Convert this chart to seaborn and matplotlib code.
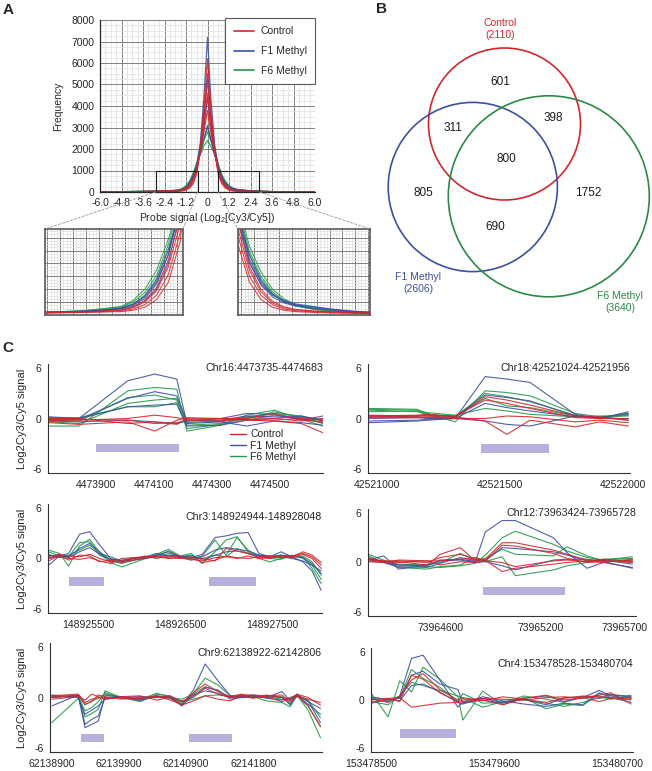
import matplotlib
matplotlib.use("Agg")
import matplotlib.pyplot as plt
import seaborn as sns
import pandas as pd
from matplotlib.patches import Rectangle, Circle, ConnectionPatch
from matplotlib.ticker import MultipleLocator, AutoMinorLocator
from matplotlib.lines import Line2D

# ---------------- data: panel A (probe signal histograms) ----------------
hist_x = [-6.0, -4.8, -3.6, -3.0, -2.6, -2.2, -1.9, -1.6, -1.4, -1.2, -1.0, -0.8, -0.6, -0.4, -0.2, 0.0,
          0.2, 0.4, 0.6, 0.8, 1.0, 1.2, 1.4, 1.6, 1.9, 2.2, 2.6, 3.0, 3.6, 4.8, 6.0]
hist_ctrl = [
    [8, 12, 18, 22, 26, 30, 35, 40, 55, 90, 180, 380, 850, 2000, 3900, 6200, 3800, 1900, 820, 380, 180, 90, 55, 40, 30, 24, 20, 16, 12, 9, 6],
    [10, 14, 20, 25, 28, 34, 40, 48, 70, 120, 230, 470, 950, 1950, 3400, 5200, 3300, 1850, 920, 450, 230, 120, 70, 50, 38, 30, 24, 19, 14, 10, 7],
    [12, 16, 22, 27, 32, 38, 45, 55, 85, 150, 280, 560, 1050, 1950, 3100, 4600, 3000, 1850, 1000, 520, 270, 140, 85, 60, 45, 36, 28, 22, 16, 11, 8],
    [9, 13, 19, 24, 30, 38, 48, 60, 95, 170, 320, 640, 1120, 1900, 2800, 3800, 2700, 1800, 1080, 560, 300, 160, 95, 65, 48, 38, 28, 21, 15, 10, 6],
]
hist_f1 = [
    [10, 15, 22, 28, 34, 42, 55, 70, 100, 160, 300, 600, 1200, 2300, 4400, 7200, 4200, 2200, 1150, 600, 360, 230, 170, 130, 100, 72, 45, 30, 20, 12, 8],
    [12, 18, 25, 30, 36, 45, 58, 75, 115, 190, 360, 700, 1250, 2150, 3600, 5500, 3500, 2050, 1200, 650, 380, 240, 160, 120, 95, 68, 42, 28, 18, 12, 7],
    [11, 16, 23, 29, 35, 44, 56, 80, 125, 220, 420, 760, 1180, 1950, 3000, 4400, 2900, 1850, 1100, 620, 350, 210, 140, 105, 80, 58, 38, 26, 17, 11, 7],
    [10, 15, 21, 27, 33, 42, 54, 78, 120, 210, 380, 700, 1250, 1850, 2500, 3100, 2400, 1750, 1150, 700, 400, 240, 150, 110, 85, 62, 40, 27, 18, 11, 7],
]
hist_f6 = [
    [13, 18, 26, 33, 40, 55, 75, 100, 170, 300, 520, 880, 1350, 1750, 2150, 2400, 2100, 1750, 1300, 800, 500, 300, 190, 120, 75, 50, 34, 26, 19, 12, 8],
    [12, 17, 24, 31, 38, 50, 68, 95, 150, 260, 460, 820, 1300, 1800, 2500, 3000, 2450, 1800, 1250, 740, 450, 270, 170, 110, 70, 47, 32, 24, 17, 11, 7],
    [11, 16, 23, 30, 36, 46, 62, 85, 130, 230, 400, 760, 1250, 1780, 2400, 2800, 2350, 1750, 1200, 700, 420, 250, 160, 105, 68, 46, 31, 23, 16, 10, 7],
]
a_xticks = [-6.0, -4.8, -3.6, -2.4, -1.2, 0.0, 1.2, 2.4, 3.6, 4.8, 6.0]
zoom_left = (-2.9, -0.55)
zoom_right = (0.6, 2.9)
zoom_top = 1000

# ---------------- data: panel B (Venn counts) ----------------
venn_only_ctrl, venn_only_f1, venn_only_f6 = 601, 805, 1752
venn_ctrl_f1, venn_ctrl_f6, venn_f1_f6, venn_all = 311, 398, 690, 800

# ---------------- data: panel C (probe tracks) ----------------
c16_pos = [4473740, 4473842, 4474010, 4474103, 4474179, 4474214, 4474330, 4474420, 4474515, 4474608, 4474683]
c16_ctrl = [[-0.5, -0.7, -0.4, -1.5, -0.2, 0.1, 0.0, -0.2, -0.3, -0.6, -1.7],
            [-0.1, -0.2, 0.0, 0.4, 0.1, -0.1, 0.0, 0.0, 0.6, -0.1, -0.5],
            [0.0, 0.0, -0.6, -0.4, -0.7, 0.0, -0.2, -0.1, -0.2, 0.0, -0.2],
            [-0.3, -0.1, -0.2, -0.6, -0.5, -0.2, -0.4, 0.1, 0.0, -0.3, 0.0]]
c16_f1 = [[0.1, 0.0, 4.5, 5.3, 4.7, -0.6, -0.4, -0.9, -0.3, -0.5, -0.8],
          [-0.2, -0.1, 2.4, 3.2, 2.7, -0.3, 0.0, 0.6, 0.5, -0.2, 0.3],
          [0.2, 0.0, 1.4, 1.6, 1.7, -0.9, -0.8, -0.2, 0.0, 0.3, -0.3],
          [-0.3, -0.4, -0.2, -0.4, -0.6, -0.3, -0.2, 0.3, 0.2, 0.1, -0.1]]
c16_f6 = [[-0.9, -0.9, 3.3, 3.7, 3.5, -1.5, -0.8, 0.4, 1.0, -0.1, -0.9],
          [-0.4, -0.6, 1.8, 2.2, 2.4, -0.8, -0.6, 0.0, 0.8, 0.2, -0.6],
          [0.0, 0.1, 1.4, 1.4, 1.9, -1.2, -0.7, -0.2, 0.4, -0.1, -0.4],
          [-0.2, -0.3, 2.5, 2.8, 2.2, -0.5, -0.3, 0.2, 0.6, 0.3, -0.2]]
c16_regions = [(4473900, 4474187)]

c18_pos = [42520965, 42521162, 42521205, 42521317, 42521439, 42521527, 42521621, 42521804, 42521905, 42522020]
c18_ctrl = [[0.3, 0.4, 0.5, 0.2, -0.3, -1.9, -0.2, -1.0, -0.4, -0.9],
            [0.2, 0.3, 0.3, 0.1, 2.6, 2.2, 1.6, 0.3, 0.2, -0.2],
            [0.1, 0.1, 0.2, 0.0, 0.0, 0.3, 0.2, -0.4, -0.2, -0.5],
            [0.4, 0.3, 0.4, 0.3, 2.2, 1.8, 1.2, 0.1, 0.0, 0.0]]
c18_f1 = [[-0.5, -0.3, -0.2, 0.0, 5.0, 4.7, 4.3, 0.5, 0.0, 0.8],
          [0.3, 0.2, 0.1, 0.2, 2.8, 2.5, 2.1, 0.3, 0.0, 0.0],
          [-0.3, -0.2, -0.1, 0.0, 1.8, 1.3, 0.9, 0.2, 0.1, -0.2],
          [0.0, 0.1, 0.0, 0.0, -0.3, -0.7, -0.9, 0.3, 0.1, 0.6]]
c18_f6 = [[1.2, 1.1, 0.6, -0.4, 3.3, 3.1, 2.7, 0.6, 0.2, 0.5],
          [1.0, 0.8, 0.5, 0.3, 2.4, 1.5, 1.3, 0.3, 0.1, 0.6],
          [0.8, 0.9, 0.7, 0.4, 1.2, 0.9, 0.5, 0.2, 0.3, 0.3],
          [1.1, 1.0, 0.4, 0.2, 3.0, 2.6, 2.0, 0.4, 0.0, 0.4]]
c18_regions = [(42521422, 42521699)]

c3_pos = [148925060, 148925180, 148925280, 148925400, 148925510, 148925620, 148925740, 148925860, 148925990,
          148926120, 148926240, 148926370, 148926500, 148926620, 148926740, 148926880, 148927000, 148927120,
          148927240, 148927360, 148927480, 148927600, 148927720, 148927840, 148927940, 148928040]
c3_ctrl = [[-0.3, 0.4, -0.2, 0.4, 0.3, -0.4, -0.2, -0.5, -0.2, 0.1, 0.3, 0.1, 0.0, 0.2, -0.5, -0.2, 0.3, 0.1, 0.0, 0.2, 0.3, 0.1, 0.3, 0.6, 0.2, -0.8],
           [0.2, 0.5, 0.3, 0.2, 0.5, 0.0, -0.4, -0.3, 0.0, 0.3, 0.0, 0.3, 0.2, -0.1, -0.3, 0.1, 0.2, 0.0, 0.3, 0.0, 0.2, 0.4, 0.2, 0.8, 0.4, -0.5],
           [0.0, 0.2, 0.0, -0.1, 0.1, -0.3, -0.6, 0.0, 0.1, 0.2, 0.2, 0.0, 0.1, 0.1, 0.0, -0.3, 1.2, 0.9, 0.6, 0.1, 0.0, 0.3, 0.1, 0.5, 0.0, -1.2]]
c3_f1 = [[-0.8, 0.3, 0.6, 2.9, 3.2, 1.6, 0.0, -0.3, -0.2, 0.0, 0.2, 0.4, 0.3, 0.1, 0.5, 2.5, 2.7, 3.0, 3.1, 0.6, 0.2, 0.8, 0.2, -0.4, -1.5, -3.8],
         [0.4, 0.2, 0.2, 1.2, 1.8, 0.8, -0.2, -0.4, 0.0, 0.2, 0.6, 0.3, 0.1, -0.2, 0.2, 1.0, 1.3, 1.1, 0.9, 0.4, 0.3, 0.2, 0.0, -0.3, -0.8, -1.5],
         [0.0, 0.5, 0.1, 0.8, 1.3, 0.5, -0.1, -0.2, 0.1, 0.1, 0.4, 0.8, 0.2, 0.4, -0.2, 0.4, 0.8, 0.9, 0.6, 0.3, 0.2, 0.4, 0.3, 0.1, -0.6, -1.8]]
c3_f6 = [[1.0, 0.6, -0.9, 1.5, 2.3, 0.7, -0.5, -1.0, -0.5, 0.0, 0.5, 1.1, 0.3, 0.6, -0.6, 0.8, 2.2, 2.6, 0.8, 0.0, -0.4, 0.0, 0.3, 0.2, -1.2, -3.0],
         [0.8, 0.3, 0.2, 1.9, 2.0, 0.4, -0.3, -0.6, -0.2, 0.2, 0.3, 0.9, 0.2, 0.0, 0.3, 2.2, 0.4, 2.5, 1.0, 0.3, 0.0, -0.1, 0.4, 0.0, -0.8, -2.5],
         [0.5, 0.1, 0.4, 1.0, 1.6, 0.6, 0.2, -0.3, 0.0, 0.1, 0.2, 0.6, 0.3, 0.2, 0.0, 0.4, 0.2, 1.2, 0.6, 0.4, 0.1, 0.2, 0.1, 0.3, -0.4, -2.0]]
c3_regions = [(148925285, 148925664), (148926817, 148927331)]

c12_pos = [73964170, 73964262, 73964351, 73964521, 73964600, 73964719, 73964809, 73964868, 73964968, 73965047,
           73965275, 73965355, 73965474, 73965573, 73965745]
c12_ctrl = [[0.6, 0.1, 0.1, -0.3, 1.0, 1.8, 0.2, 0.4, 2.4, 2.4, 1.5, 1.0, 0.3, 0.2, 0.1],
            [0.4, 0.2, 0.2, 0.0, 0.6, 1.0, 0.4, 0.3, -1.1, -0.7, -0.2, 0.0, 0.2, 0.4, 0.2],
            [0.1, 0.0, 0.3, 0.2, -0.3, 0.1, 0.0, 0.2, 0.0, -0.5, 0.2, 0.3, 0.1, 0.0, 0.4],
            [0.3, 0.1, 0.0, 0.2, 0.2, 0.4, 0.6, 0.2, 2.1, 2.0, 1.1, 0.5, 0.0, 0.2, 0.0]]
c12_f1 = [[0.3, 0.8, -0.8, -0.3, 0.3, 0.4, 0.1, 3.7, 5.1, 5.1, 3.0, 1.2, -0.7, 0.0, -0.6],
          [0.5, 0.1, -0.5, -0.6, -0.1, 0.6, 0.2, 0.2, 1.8, 1.7, 1.3, 0.9, 0.2, 0.3, -0.2],
          [0.2, 0.0, -0.3, -0.4, 0.2, 0.3, 0.0, 0.1, -0.4, -0.9, 0.3, 0.4, 0.4, 0.1, -0.7]]
c12_f6 = [[1.0, 0.3, -0.3, -0.5, -0.6, -0.4, -0.1, 0.9, 3.0, 3.8, 2.2, 1.4, 0.6, 0.3, 0.7],
          [0.8, 0.0, -0.6, -0.8, -0.5, -0.3, 0.6, 0.1, 0.7, -1.6, -0.9, -0.4, 0.0, 0.4, 0.5],
          [0.4, 0.2, -0.2, -0.3, 0.0, 1.1, 0.3, 0.5, 1.6, 1.0, 0.8, 1.9, 0.8, 0.2, 0.3]]
c12_regions = [(73964852, 73965345)]

c9_pos = [62138900, 62139284, 62139381, 62139478, 62139573, 62139670, 62139900, 62140177, 62140417, 62140609,
          62140779, 62140946, 62141115, 62141300, 62141477, 62141640, 62141813, 62142000, 62142224, 62142344,
          62142440, 62142600, 62142780]
c9_ctrl = [[0.2, 0.4, -0.6, -0.2, 0.0, -0.1, 0.0, -0.1, 0.2, -0.3, -0.8, 0.6, 1.6, 0.7, 0.1, 0.4, 0.0, 0.1, -0.5, -0.1, 0.2, -0.2, -0.6],
           [0.0, 0.3, -0.8, -0.5, 0.3, 0.1, -0.2, 0.0, 0.0, 0.2, -0.5, 0.2, 1.1, 0.4, 0.0, 0.3, 0.3, 0.2, 0.3, -0.6, 0.3, -1.0, -3.5],
           [-0.2, 0.1, -0.3, 0.4, 0.1, -0.2, 0.1, 0.2, -0.3, 0.0, -0.9, -0.4, 0.2, -0.2, -0.4, 0.2, -0.1, 0.3, 0.0, -0.2, 0.4, 0.0, -0.9]]
c9_f1 = [[0.0, 0.2, -3.6, -3.2, -2.8, 0.3, 0.0, 0.1, 0.0, 0.1, -0.9, 0.9, 4.0, 2.0, 0.2, 0.0, 0.2, 0.0, 0.7, -0.4, 0.4, -0.5, -1.3],
         [-1.0, 0.3, -3.2, -2.6, -2.2, 0.0, 0.1, -0.2, 0.2, -0.1, -1.0, 0.3, 0.8, 0.5, 0.0, 0.1, 0.3, -0.1, -0.3, 0.0, 0.3, -0.8, -2.0],
         [0.2, 0.0, -2.0, -1.5, -1.0, -0.2, 0.0, -0.3, 0.1, 0.0, -0.4, 0.0, 1.2, 0.9, -0.2, 0.0, 0.1, 0.2, 0.0, -0.8, 0.2, -0.4, -3.0]]
c9_f6 = [[-3.0, -0.1, -2.3, -1.9, -1.4, 0.8, 0.0, -0.5, 0.4, 0.2, -0.7, 0.5, 2.3, 1.5, 0.2, 0.3, 0.1, -0.4, -0.6, -1.1, 0.3, -1.5, -4.8],
         [0.3, 0.1, -1.6, -1.2, -0.5, 0.6, -0.1, -0.2, 0.5, 0.0, -0.2, 0.4, 1.3, 0.8, 0.0, 0.2, 0.2, 0.0, 0.1, -0.9, 0.2, -1.0, -3.4],
         [0.1, 0.2, -0.9, -0.4, -0.1, 0.4, 0.1, -0.4, 0.2, 0.0, -0.5, -0.2, 0.2, 0.3, 0.1, 0.0, 0.0, 0.1, -0.2, -0.3, 0.1, -0.3, -2.4]]
c9_regions = [(62139325, 62139658), (62140880, 62141509)]

c4_pos = [153478500, 153478648, 153478752, 153478857, 153478960, 153479110, 153479272, 153479316, 153479494,
          153479673, 153479860, 153480060, 153480220, 153480386, 153480535, 153480638, 153480820]
c4_ctrl = [[0.0, 0.2, -0.2, 3.1, 2.6, 0.9, -0.2, 0.0, 0.2, 0.1, 0.0, 0.3, 0.4, 0.2, 0.6, 0.9, -0.5],
           [-0.4, 0.2, 0.3, -0.9, -0.7, -0.4, -0.3, -0.2, 0.0, -0.6, 0.2, 0.6, 0.0, 0.3, -0.2, 0.2, 0.3],
           [0.1, -0.2, 0.5, 2.5, 3.3, 1.3, 0.0, 0.3, -0.1, 0.4, 0.1, -0.3, 0.2, 0.5, 0.4, 0.3, 0.1]]
c4_f1 = [[0.2, -0.3, 0.5, 5.2, 5.6, 2.5, -0.9, -0.3, 0.0, -0.4, 0.2, 0.5, -0.2, 0.3, 1.2, 0.5, 0.2],
         [-0.3, 0.0, 0.2, 3.1, 3.6, 2.0, 1.3, -0.4, 0.4, -0.1, -0.5, -0.8, -0.4, -0.6, 0.9, 0.3, -0.3],
         [0.3, 0.1, -0.1, 1.8, 2.0, 1.0, -0.3, -0.5, 0.2, -0.3, 0.1, -0.6, 0.3, 0.4, 0.2, 0.7, 0.4]]
c4_f6 = [[0.8, -2.1, 2.4, 1.0, 4.1, 2.6, 0.4, -2.5, 1.1, -0.6, 0.3, -1.1, -0.5, -0.7, 0.8, 0.6, 0.5],
         [0.4, 0.0, 0.3, 3.8, 2.7, 1.6, -0.2, 0.8, -0.4, -0.3, 0.5, 0.1, -0.3, 0.4, 0.5, 0.1, 0.6],
         [-0.2, -0.6, 0.5, 2.2, 1.8, 1.2, 0.5, 0.2, -0.9, -0.2, 0.0, -0.4, -0.8, -0.3, 0.3, 0.2, 0.0]]
c4_regions = [(153478758, 153479258)]

groups = ["F6 Methyl", "F1 Methyl", "Control"]
colors = {"Control": "#d2262c", "F1 Methyl": "#3d50a2", "F6 Methyl": "#23994a"}

W, H = 652, 771


def px_rect(x0, y0, x1, y1):
    return [x0 / W, 1 - y1 / H, (x1 - x0) / W, (y1 - y0) / H]


def long_df(x, ctrl, f1, f6):
    rows = []
    for name, lines in zip(["Control", "F1 Methyl", "F6 Methyl"], [ctrl, f1, f6]):
        for i, ys in enumerate(lines):
            for xv, yv in zip(x, ys):
                rows.append((name, f"{name}_{i}", xv, yv))
    return pd.DataFrame(rows, columns=["group", "rep", "x", "y"])


sns.set_style("white")
plt.rcParams["font.family"] = ["Liberation Sans", "DejaVu Sans"]
plt.rcParams["mathtext.default"] = "regular"

fig = plt.figure(figsize=(W / 100, H / 100), dpi=100)

# ---------------- panel A ----------------
df_a = long_df(hist_x, hist_ctrl, hist_f1, hist_f6)
ax_a = fig.add_axes(px_rect(100, 20, 315, 192))
ax_l = fig.add_axes(px_rect(45, 229, 183, 315))
ax_r = fig.add_axes(px_rect(238, 229, 370, 315))

for ax, lw in ((ax_a, 0.9), (ax_l, 0.75), (ax_r, 0.75)):
    sns.lineplot(data=df_a, x="x", y="y", hue="group", units="rep", estimator=None,
                 hue_order=groups, palette=colors, linewidth=lw, alpha=0.85,
                 legend=False, sort=False, ax=ax)
    ax.set_axisbelow(True)
    ax.xaxis.set_minor_locator(AutoMinorLocator(4))
    ax.yaxis.set_minor_locator(AutoMinorLocator(4))
    ax.grid(which="major", color="0.5", lw=0.7)
    ax.grid(which="minor", color="0.87", lw=0.5)
    ax.set_xlabel("")
    ax.set_ylabel("")

ax_a.set_xlim(-6, 6)
ax_a.set_ylim(0, 8000)
ax_a.set_xticks(a_xticks)
ax_a.set_xticklabels(["0" if v == 0 else f"{v:.1f}" for v in a_xticks])
ax_a.yaxis.set_major_locator(MultipleLocator(1000))
ax_a.tick_params(labelsize=7.5, length=2.5, width=0.8, pad=1.5, direction="out", color="0.2")
ax_a.tick_params(which="minor", length=0)
for s in ["top", "right"]:
    ax_a.spines[s].set_visible(False)
for s in ["left", "bottom"]:
    ax_a.spines[s].set_color("0.15")
    ax_a.spines[s].set_linewidth(0.9)
ax_a.set_ylabel("Frequency", fontsize=7.5)
ax_a.yaxis.set_label_coords(-0.17, 0.5)
ax_a.set_xlabel("Probe signal (Log$_2$[Cy3/Cy5])", fontsize=7.5)
ax_a.xaxis.set_label_coords(0.5, -0.11)

for lo, hi in (zoom_left, zoom_right):
    ax_a.add_patch(Rectangle((lo, 0), hi - lo, zoom_top, fill=False, ec="0.1", lw=0.8, zorder=5))

handles = [Line2D([], [], color=colors[g], lw=1.2) for g in ["Control", "F1 Methyl", "F6 Methyl"]]
leg = ax_a.legend(handles, ["Control", "F1 Methyl", "F6 Methyl"], loc="upper right",
                  bbox_to_anchor=(1.0, 1.012), borderaxespad=0, fontsize=7.5, fancybox=False,
                  framealpha=1, edgecolor="0.35", handlelength=2.0, labelspacing=0.95,
                  borderpad=0.8, handletextpad=0.6)
leg.get_frame().set_linewidth(0.8)

for ax, (lo, hi) in ((ax_l, zoom_left), (ax_r, zoom_right)):
    ax.set_xlim(lo, hi)
    ax.set_ylim(0, zoom_top)
    ax.xaxis.set_major_locator(MultipleLocator(0.22))
    ax.yaxis.set_major_locator(MultipleLocator(150))
    ax.tick_params(which="both", length=0, labelbottom=False, labelleft=False)
    for s in ax.spines.values():
        s.set_color("0.35")
        s.set_linewidth(1.2)
    for xa, xb in ((lo, 0), (hi, 1)):
        con = ConnectionPatch(xyA=(xa, 0), coordsA=ax_a.transData, xyB=(xb, 1),
                              coordsB=ax.transAxes, color="0.6", ls=(0, (3, 2)), lw=0.6)
        fig.add_artist(con)

# ---------------- panel B (Venn) ----------------
ax_b = fig.add_axes(px_rect(330, 0, 652, 330))
ax_b.set_xlim(330, 652)
ax_b.set_ylim(330, 0)
ax_b.axis("off")
circles = [((504.5, 124), 76, colors["Control"]),
           ((472.8, 187), 84.6, colors["F1 Methyl"]),
           ((548.8, 196.3), 100.5, "#2a8a46")]
for c, r, col in circles:
    ax_b.add_patch(Circle(c, r, fill=False, ec=col, lw=1.2))
region_vals = [venn_only_ctrl, venn_ctrl_f1, venn_ctrl_f6, venn_all, venn_only_f1, venn_only_f6, venn_f1_f6]
region_xy = [(500, 82), (453, 128), (553, 118), (506, 159), (423, 193), (588, 193), (495, 227)]
for v, (x, y) in zip(region_vals, region_xy):
    ax_b.text(x, y, str(v), ha="center", va="center", fontsize=8.5, color="0.1")
tot_ctrl = venn_only_ctrl + venn_ctrl_f1 + venn_ctrl_f6 + venn_all
tot_f1 = venn_only_f1 + venn_ctrl_f1 + venn_f1_f6 + venn_all
tot_f6 = venn_only_f6 + venn_ctrl_f6 + venn_f1_f6 + venn_all
for name, tot, (x, y), col in [("Control", tot_ctrl, (500, 29), colors["Control"]),
                               ("F1 Methyl", tot_f1, (418, 283), colors["F1 Methyl"]),
                               ("F6 Methyl", tot_f6, (620, 302), "#2a8a46")]:
    ax_b.text(x, y, f"{name}\n({tot})", ha="center", va="center", fontsize=7.5,
              color=col, linespacing=1.3)

# ---------------- panel C ----------------
c_panels = [
    dict(rect=(48, 364, 323, 473), title="Chr16:4473735-4474683", ty=0.965, pos=c16_pos,
         data=(c16_ctrl, c16_f1, c16_f6), xlim=(4473735, 4474683),
         major=[4473900, 4474100, 4474300, 4474500], minor=[4473800, 4474000, 4474200, 4474400, 4474600],
         labels=None, regions=c16_regions, band=(-4.0, -3.0), ylabel=True, legend=True),
    dict(rect=(368, 364, 630, 473), title="Chr18:42521024-42521956", ty=0.965, pos=c18_pos,
         data=(c18_ctrl, c18_f1, c18_f6), xlim=(42520963, 42522027),
         major=[42521000, 42521500, 42522000], minor=[42521250, 42521750],
         labels=None, regions=c18_regions, band=(-4.1, -3.0), ylabel=False, legend=False),
    dict(rect=(48, 504, 322, 613), title="Chr3:148924944-148928048", ty=0.88, pos=c3_pos,
         data=(c3_ctrl, c3_f1, c3_f6), xlim=(148925055, 148928048),
         major=[148925500, 148926500, 148927500], minor=[148926000, 148927000, 148928000],
         labels=None, regions=c3_regions, band=(-3.3, -2.25), ylabel=True, legend=False),
    dict(rect=(368, 509, 636, 616), title="Chr12:73963424-73965728", ty=0.965, pos=c12_pos,
         data=(c12_ctrl, c12_f1, c12_f6), xlim=(73964169, 73965766),
         major=[73964600, 73965200, 73965700], minor=[73964300, 73964900, 73965450],
         labels=None, regions=c12_regions, band=(-4.0, -2.95), ylabel=False, legend=False),
    dict(rect=(50, 643, 322, 752), title="Chr9:62138922-62142806", ty=0.905, pos=c9_pos,
         data=(c9_ctrl, c9_f1, c9_f6), xlim=(62138875, 62142802),
         major=[62138900, 62139870, 62140840, 62141810, 62142780], minor=[],
         labels=["62138900", "62139900", "62140900", "62141800", ""], regions=c9_regions,
         band=(-5.3, -4.3), ylabel=True, legend=False),
    dict(rect=(371, 648, 633, 752), title="Chr4:153478528-153480704", ty=0.85, pos=c4_pos,
         data=(c4_ctrl, c4_f1, c4_f6), xlim=(153478495, 153480837),
         major=[153478500, 153479600, 153480700], minor=[153479050, 153480150],
         labels=None, regions=c4_regions, band=(-4.75, -3.65), ylabel=False, legend=False),
]

for p in c_panels:
    x0, y0, x1, y1 = p["rect"]
    ax = fig.add_axes(px_rect(*p["rect"]))
    df = long_df(p["pos"], *p["data"])
    sns.lineplot(data=df, x="x", y="y", hue="group", units="rep", estimator=None,
                 hue_order=groups, palette=colors, linewidth=0.8, alpha=0.9,
                 legend=False, sort=False, ax=ax)
    for a, b in p["regions"]:
        ax.add_patch(Rectangle((a, p["band"][0]), b - a, p["band"][1] - p["band"][0],
                               color="#b5b1dc", lw=0))
    ax.set_xlim(*p["xlim"])
    ax.set_ylim(-6.5, 6.5)
    ax.set_yticks([-6, 0, 6])
    ax.set_yticklabels(["-6", "0", "6"])
    ax.set_xticks(p["major"])
    ax.set_xticklabels(p["labels"] if p["labels"] else [str(v) for v in p["major"]])
    ax.set_xticks(p["minor"], minor=True)
    ax.tick_params(which="both", direction="out", length=3.5, width=0.8, color="0.2",
                   labelsize=7.5, pad=1.5)
    ax.tick_params(axis="y", length=3)
    for s in ["top", "right"]:
        ax.spines[s].set_visible(False)
    for s in ["left", "bottom"]:
        ax.spines[s].set_color("0.2")
        ax.spines[s].set_linewidth(0.8)
    ax.set_xlabel("")
    ax.set_ylabel("")
    if p["ylabel"]:
        ax.set_ylabel("Log2Cy3/Cy5 signal", fontsize=8)
        ax.yaxis.set_label_coords(-(x0 - 27) / (x1 - x0), 0.5)
    ax.text(1.0, p["ty"], p["title"], transform=ax.transAxes, ha="right", va="center", fontsize=7.7)
    if p["legend"]:
        hs = [Line2D([], [], color=colors[g], lw=1.0) for g in ["Control", "F1 Methyl", "F6 Methyl"]]
        ax.legend(hs, ["Control", "F1 Methyl", "F6 Methyl"], loc="upper left",
                  bbox_to_anchor=(0.66, 0.4), borderaxespad=0, borderpad=0, frameon=False,
                  fontsize=7.5, handlelength=1.6, handletextpad=0.4, labelspacing=0.12)

# ---------------- panel letters ----------------
for lab, x, y in [("A", 8, 10), ("B", 382, 9), ("C", 8, 348)]:
    fig.text(x / W, 1 - y / H, lab, fontsize=11, fontweight="bold", va="center", ha="center")

fig.savefig("out.png", dpi=100)
